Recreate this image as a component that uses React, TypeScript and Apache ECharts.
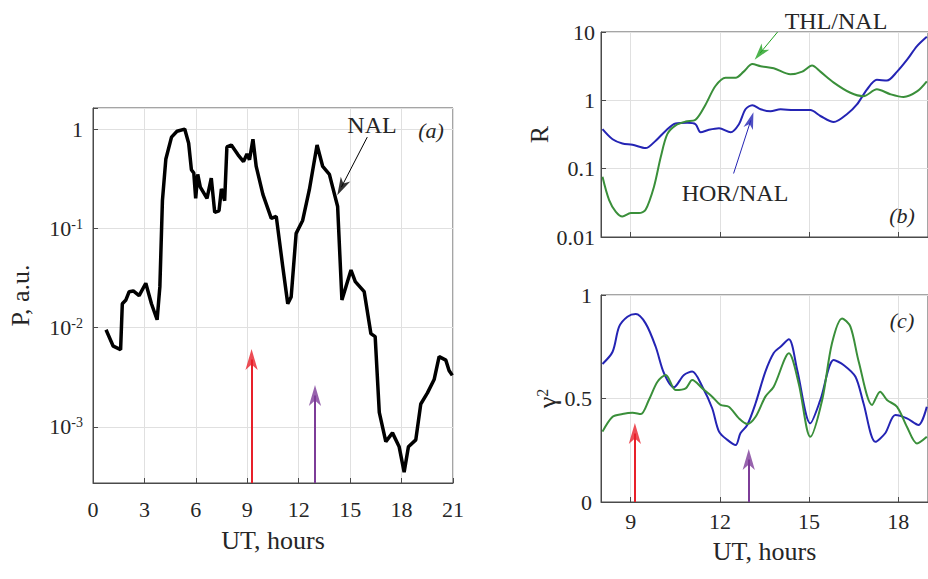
import React, { useEffect, useRef } from 'react';
import * as echarts from 'echarts';

// ---------- Panel (a): NAL power ----------
const nalHours = [0.76, 1.18, 1.61, 1.71, 1.92, 2.11, 2.35, 2.69, 3.08, 3.41, 3.74, 3.9, 4.05, 4.25, 4.58, 4.9, 5.35, 5.58, 5.74, 5.88, 5.99, 6.11, 6.26, 6.65, 6.9, 7.1, 7.35, 7.49, 7.68, 7.81, 8.07, 8.46, 8.78, 8.98, 9.13, 9.33, 9.52, 9.91, 10.4, 10.69, 11.07, 11.36, 11.56, 11.85, 12.23, 12.62, 13.07, 13.4, 13.79, 13.98, 14.27, 14.52, 14.75, 15.05, 15.3, 15.82, 16.21, 16.46, 16.7, 17.08, 17.47, 17.86, 18.15, 18.4, 18.83, 19.12, 19.51, 19.9, 20.19, 20.58, 20.77, 20.96];
const nalPower = [0.0095, 0.0065, 0.006, 0.0174, 0.019, 0.023, 0.0234, 0.021, 0.028, 0.0174, 0.012, 0.0257, 0.19, 0.5, 0.83, 0.95, 1.0, 0.72, 0.39, 0.36, 0.2, 0.35, 0.26, 0.2, 0.32, 0.145, 0.15, 0.25, 0.19, 0.66, 0.69, 0.55, 0.47, 0.56, 0.49, 0.79, 0.42, 0.22, 0.126, 0.132, 0.041, 0.0174, 0.0204, 0.089, 0.12, 0.245, 0.69, 0.42, 0.35, 0.26, 0.166, 0.019, 0.0257, 0.038, 0.029, 0.023, 0.0087, 0.0081, 0.0014, 0.00071, 0.00087, 0.00063, 0.00035, 0.00063, 0.00074, 0.0017, 0.0022, 0.003, 0.0051, 0.0047, 0.0037, 0.0033];

// ---------- Panel (b): ratios ----------
const horRatioHours = [8.05, 8.39, 8.72, 9.06, 9.5, 9.84, 10.18, 10.51, 10.9, 11.18, 11.35, 11.63, 11.97, 12.36, 12.64, 12.86, 13.09, 13.37, 13.7, 14.04, 14.48, 15.04, 15.38, 15.83, 16.28, 16.61, 16.95, 17.28, 17.62, 17.96, 18.29, 18.63, 18.96];
const horRatioValues = [0.38, 0.27, 0.234, 0.224, 0.2, 0.257, 0.36, 0.457, 0.468, 0.447, 0.34, 0.37, 0.39, 0.34, 0.447, 0.74, 0.85, 0.74, 0.69, 0.74, 0.72, 0.72, 0.59, 0.48, 0.63, 0.87, 1.45, 2.0, 1.95, 2.63, 3.9, 6.2, 8.5];
const thlRatioHours = [8.05, 8.27, 8.5, 8.72, 9.0, 9.28, 9.5, 9.78, 10.01, 10.23, 10.51, 10.85, 11.18, 11.52, 11.85, 12.19, 12.53, 12.8, 13.09, 13.37, 13.81, 14.37, 14.77, 15.1, 15.38, 15.83, 16.39, 16.83, 17.28, 17.73, 18.18, 18.63, 18.96];
const thlRatioValues = [0.076, 0.035, 0.0234, 0.02, 0.0224, 0.0224, 0.025, 0.054, 0.148, 0.32, 0.43, 0.49, 0.52, 0.87, 1.62, 2.14, 2.14, 2.63, 3.39, 3.16, 2.95, 2.4, 2.63, 3.24, 2.63, 1.82, 1.29, 1.15, 1.45, 1.23, 1.12, 1.35, 1.9];

// ---------- Panel (c): coherence ----------
const horCohHours = [8.05, 8.39, 8.61, 8.89, 9.17, 9.5, 9.84, 10.12, 10.45, 10.79, 11.07, 11.41, 11.74, 11.97, 12.25, 12.53, 12.69, 12.92, 13.2, 13.53, 13.81, 14.04, 14.32, 14.6, 15.04, 15.38, 15.83, 16.16, 16.56, 16.83, 17.23, 17.56, 17.9, 18.29, 18.68, 18.96];
const horCohValues = [0.667, 0.726, 0.847, 0.895, 0.908, 0.863, 0.75, 0.622, 0.554, 0.614, 0.63, 0.557, 0.453, 0.34, 0.3, 0.275, 0.332, 0.372, 0.477, 0.63, 0.72, 0.75, 0.786, 0.638, 0.38, 0.493, 0.686, 0.662, 0.605, 0.477, 0.291, 0.332, 0.42, 0.404, 0.372, 0.46];
const thlCohHours = [8.05, 8.39, 8.72, 9.06, 9.34, 9.61, 9.9, 10.18, 10.51, 10.85, 11.07, 11.41, 11.74, 12.02, 12.3, 12.64, 12.92, 13.2, 13.53, 13.81, 14.32, 14.65, 15.04, 15.44, 15.77, 16.11, 16.39, 16.67, 17.12, 17.39, 17.62, 17.96, 18.29, 18.63, 18.96];
const thlCohValues = [0.34, 0.412, 0.425, 0.431, 0.425, 0.493, 0.581, 0.614, 0.541, 0.549, 0.589, 0.549, 0.509, 0.469, 0.46, 0.404, 0.377, 0.412, 0.509, 0.557, 0.718, 0.573, 0.315, 0.493, 0.767, 0.887, 0.847, 0.678, 0.469, 0.533, 0.493, 0.46, 0.364, 0.283, 0.315];

// ---------- Ticks / markers ----------
const xTicksBC = [9, 12, 15, 18];
const markerHoursA = [9.25, 12.95];
const markerTipsA = [0.00477, 0.00207];
const markerHoursC = [9.14, 12.97];
const markerTipsC = [0.331, 0.205];
const markerColors = ['#e8202a', '#7d3c98'];
const nalArrow = [[16.0, 0.83], [14.49, 0.26]];
const horArrow = [[12.46, 0.085], [13.04, 0.51]];
const thlArrow = [[13.94, 10], [13.35, 4.9]];

const P_MIN = 2.72e-4;
const P_MAX = 1.63;

const FONT = '"Liberation Serif", "Times New Roman", serif';
const AXIS_COLOR = '#4a4a4a';
const GRID_COLOR = '#e0e0e0';
const TEXT = '#262626';
const BLUE = '#2424b4';
const GREEN = '#3a8f3a';
const ARROW_GREEN = '#22a022';
const ARROW = 'path://M6.5,0 L13,17 L6.5,12.5 L0,17 Z';

const zip = (xs: number[], ys: number[]) => xs.map((x, i) => [x, ys[i]]);

function powLabel(v: number) {
  const l = Math.log10(v);
  const e = Math.round(l);
  if (Math.abs(l - e) > 0.01) return '';
  if (e === 0) return '1';
  return `10{sup|${e}}`;
}
function decLabel(v: number) {
  const l = Math.log10(v);
  const e = Math.round(l);
  if (Math.abs(l - e) > 0.01) return '';
  return e >= 0 ? String(Math.pow(10, e)) : Math.pow(10, e).toFixed(-e);
}

const baseAxis = {
  axisLine: { show: true, lineStyle: { color: AXIS_COLOR, width: 1 } },
  axisTick: { show: true, inside: true, length: 5, lineStyle: { color: AXIS_COLOR } },
  splitLine: { show: true, lineStyle: { color: GRID_COLOR, width: 1 } },
  nameTextStyle: { fontSize: 26, fontFamily: FONT, color: TEXT },
};
const labelStyle = { fontSize: 22, fontFamily: FONT, color: TEXT };

function shaft(from: number[], to: number[], color: string, width: number) {
  return [
    { coord: from, lineStyle: { color, width, type: 'solid' } },
    { coord: to },
  ];
}
function shafts(lines: any[]) {
  return { silent: true, animation: false, label: { show: false }, symbol: ['none', 'none'], data: lines };
}
function head(at: number[], color: string, rotate: number) {
  return { value: at, symbolRotate: rotate, itemStyle: { color } };
}
function headSeries(xi: number, heads: any[], size: number[]) {
  return {
    type: 'scatter', xAxisIndex: xi, yAxisIndex: xi, silent: true, z: 5,
    symbol: ARROW, symbolSize: size, symbolKeepAspect: true,
    data: heads,
  };
}

const option: any = {
  animation: false,
  backgroundColor: '#ffffff',
  grid: [
    { left: 93, top: 108, width: 360, height: 375, show: true, borderColor: AXIS_COLOR, borderWidth: 1, containLabel: false },
    { left: 601, top: 32, width: 328, height: 205, show: true, borderColor: AXIS_COLOR, borderWidth: 1, containLabel: false },
    { left: 601, top: 295, width: 328, height: 207, show: true, borderColor: AXIS_COLOR, borderWidth: 1, containLabel: false },
  ],
  xAxis: [
    {
      ...baseAxis, gridIndex: 0, type: 'value', min: 0, max: 21, interval: 3,
      axisLabel: { ...labelStyle, margin: 15 },
      name: 'UT, hours', nameLocation: 'middle', nameGap: 44,
    },
    {
      ...baseAxis, gridIndex: 1, type: 'value', min: 8, max: 19,
      axisTick: { ...baseAxis.axisTick, customValues: xTicksBC },
      axisLabel: { show: false, customValues: xTicksBC },
    },
    {
      ...baseAxis, gridIndex: 2, type: 'value', min: 8, max: 19,
      axisTick: { ...baseAxis.axisTick, customValues: xTicksBC },
      axisLabel: { ...labelStyle, margin: 8, customValues: xTicksBC },
      name: 'UT, hours', nameLocation: 'middle', nameGap: 36,
    },
  ],
  yAxis: [
    {
      ...baseAxis, gridIndex: 0, type: 'log', logBase: 10, min: P_MIN, max: P_MAX,
      axisLabel: {
        ...labelStyle, margin: 10, formatter: powLabel,
        rich: { sup: { fontSize: 14, fontFamily: FONT, color: TEXT, verticalAlign: 'top' } },
      },
      name: 'P, a.u.', nameLocation: 'middle', nameGap: 60,
    },
    {
      ...baseAxis, gridIndex: 1, type: 'log', logBase: 10, min: 0.01, max: 10,
      axisLabel: { ...labelStyle, margin: 6, formatter: decLabel },
      name: 'R', nameLocation: 'middle', nameGap: 35,
    },
    {
      ...baseAxis, gridIndex: 2, type: 'value', min: 0, max: 1, interval: 0.5,
      axisLabel: { ...labelStyle, margin: 9 },
      name: '{g|γ}{s|2}', nameLocation: 'middle', nameGap: 35,
      nameTextStyle: {
        fontSize: 26, fontFamily: FONT, color: TEXT,
        rich: {
          g: { fontSize: 26, fontFamily: FONT, color: TEXT },
          s: { fontSize: 16, fontFamily: FONT, color: TEXT, verticalAlign: 'top' },
        },
      },
    },
  ],
  series: [
    {
      name: 'NAL', type: 'line', xAxisIndex: 0, yAxisIndex: 0,
      data: zip(nalHours, nalPower), showSymbol: false, smooth: false,
      lineStyle: { color: '#000', width: 3.5 }, z: 3,
      markLine: shafts([
        shaft(nalArrow[0], nalArrow[1], '#000', 1),
        shaft([markerHoursA[0], P_MIN], [markerHoursA[0], markerTipsA[0]], markerColors[0], 2),
        shaft([markerHoursA[1], P_MIN], [markerHoursA[1], markerTipsA[1]], markerColors[1], 2),
      ]),
    },
    headSeries(0, [
      head(nalArrow[1], '#000', 152.6),
    ], [14, 18]),
    headSeries(0, [
      head([markerHoursA[0], markerTipsA[0]], markerColors[0], 0),
      head([markerHoursA[1], markerTipsA[1]], markerColors[1], 0),
    ], [16, 21]),
    {
      name: 'HOR/NAL', type: 'line', xAxisIndex: 1, yAxisIndex: 1,
      data: zip(horRatioHours, horRatioValues), showSymbol: false, smooth: 0.3,
      lineStyle: { color: BLUE, width: 2 },
      markLine: shafts([shaft(horArrow[0], horArrow[1], BLUE, 1)]),
    },
    {
      name: 'THL/NAL', type: 'line', xAxisIndex: 1, yAxisIndex: 1,
      data: zip(thlRatioHours, thlRatioValues), showSymbol: false, smooth: 0.3,
      lineStyle: { color: GREEN, width: 2 },
      markLine: shafts([shaft(thlArrow[0], thlArrow[1], ARROW_GREEN, 1)]),
    },
    headSeries(1, [
      head(horArrow[1], BLUE, -17.9),
      head(thlArrow[1], ARROW_GREEN, 140.6),
    ], [13, 17]),
    {
      name: 'HOR coherence', type: 'line', xAxisIndex: 2, yAxisIndex: 2,
      data: zip(horCohHours, horCohValues), showSymbol: false, smooth: 0.3,
      lineStyle: { color: BLUE, width: 2 },
    },
    {
      name: 'THL coherence', type: 'line', xAxisIndex: 2, yAxisIndex: 2,
      data: zip(thlCohHours, thlCohValues), showSymbol: false, smooth: 0.3,
      lineStyle: { color: GREEN, width: 2 },
      markLine: shafts([
        shaft([markerHoursC[0], 0], [markerHoursC[0], markerTipsC[0]], markerColors[0], 2),
        shaft([markerHoursC[1], 0], [markerHoursC[1], markerTipsC[1]], markerColors[1], 2),
      ]),
    },
    headSeries(2, [
      head([markerHoursC[0], markerTipsC[0]], markerColors[0], 0),
      head([markerHoursC[1], markerTipsC[1]], markerColors[1], 0),
    ], [16, 21]),
  ],
  graphic: [
    { type: 'text', x: 372, y: 125, z: 100, style: { text: 'NAL', fontSize: 24, fontFamily: FONT, fill: TEXT, align: 'center', verticalAlign: 'middle' } },
    { type: 'text', x: 431, y: 130, z: 100, style: { text: '(a)', fontSize: 22, fontStyle: 'italic', fontFamily: FONT, fill: TEXT, align: 'center', verticalAlign: 'middle' } },
    { type: 'text', x: 836, y: 21, z: 100, style: { text: 'THL/NAL', fontSize: 24, fontFamily: FONT, fill: TEXT, align: 'center', verticalAlign: 'middle' } },
    { type: 'text', x: 735, y: 193, z: 100, style: { text: 'HOR/NAL', fontSize: 24, fontFamily: FONT, fill: TEXT, align: 'center', verticalAlign: 'middle' } },
    { type: 'text', x: 902, y: 215, z: 100, style: { text: '(b)', fontSize: 22, fontStyle: 'italic', fontFamily: FONT, fill: TEXT, align: 'center', verticalAlign: 'middle' } },
    { type: 'text', x: 902, y: 320, z: 100, style: { text: '(c)', fontSize: 22, fontStyle: 'italic', fontFamily: FONT, fill: TEXT, align: 'center', verticalAlign: 'middle' } },
  ],
};

export default function App() {
  const ref = useRef<HTMLDivElement>(null);
  useEffect(() => {
    if (!ref.current) return;
    const chart = echarts.init(ref.current, null, { renderer: 'svg' });
    chart.setOption(option);
    return () => chart.dispose();
  }, []);
  return (
    <div
      ref={ref}
      style={{ position: 'absolute', left: 0, top: 0, width: 928, height: 579, background: '#fff', overflow: 'hidden' }}
    />
  );
}
